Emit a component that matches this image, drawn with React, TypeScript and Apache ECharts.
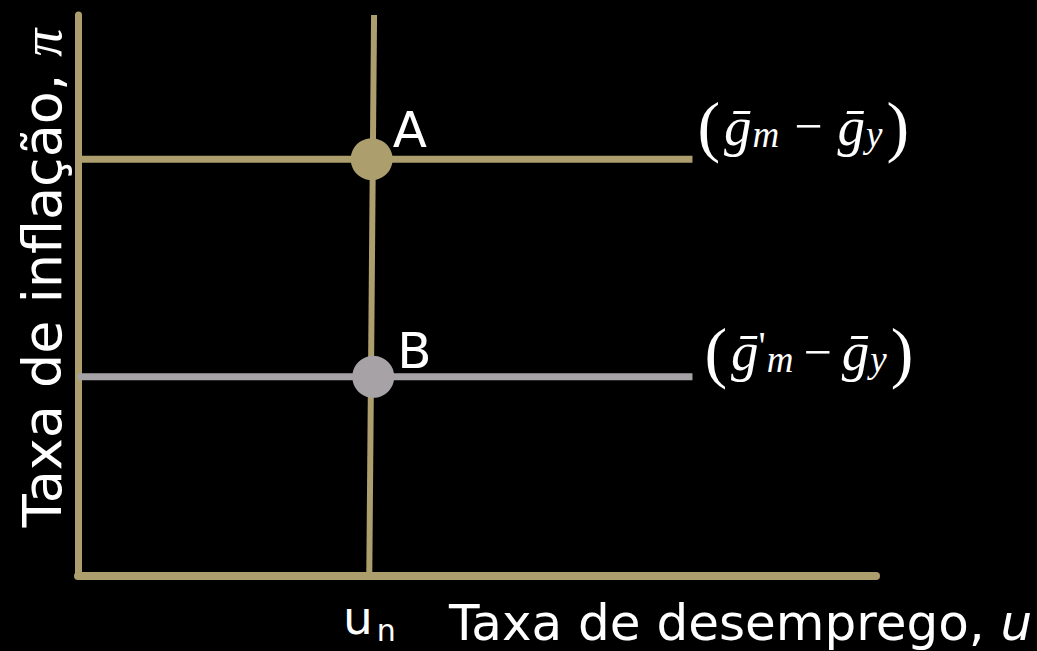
import { useEffect, useRef } from "react";
import * as echarts from "echarts";

// Data (value space: x = unemployment 0..100, y = inflation 0..100)
const pointNames = ["A", "B"];
const pointX = [36.8, 37.0];
const pointY = [74.3, 35.5];
const shortRunStartX = 0;
const shortRunEndX = 77;
const shortRunY = [74.3, 35.5];
const verticalTop = [37.1, 100];
const verticalBottom = [36.5, 0];
const xTitle = "Taxa de desemprego, ";
const yTitle = "Taxa de inflação, ";

const TAN = "#ad9e6e";
const GRAY = "#a7a2a6";
const SANS = "DejaVu Sans";
const MATH = "Liberation Serif";

const makeMathRich = (opPad: number) => ({
  p: { fontFamily: MATH, fontSize: 68, color: "#fff", padding: [0, 4, 0, 4] },
  g: { fontFamily: MATH, fontStyle: "italic", fontSize: 55, color: "#fff" },
  q: { fontFamily: MATH, fontSize: 40, color: "#fff", padding: [0, 0, 12, 0] },
  s: { fontFamily: MATH, fontStyle: "italic", fontSize: 37, color: "#fff", padding: [16, 0, 0, 1] },
  o: { fontFamily: MATH, fontSize: 50, color: "#fff", padding: [0, opPad, 0, opPad] },
});

export default function App() {
  const ref = useRef<HTMLDivElement>(null);
  useEffect(() => {
    document.body.style.margin = "0";
    document.body.style.background = "#000";
    const chart = echarts.init(ref.current!, null, { renderer: "svg" });
    chart.setOption({
      animation: false,
      backgroundColor: "#000",
      grid: { left: 78, right: 161, top: 15, bottom: 75, containLabel: false },
      xAxis: {
        type: "value",
        min: 0,
        max: 100,
        axisLine: { show: true, onZero: false, lineStyle: { color: TAN, width: 8 } },
        axisTick: { show: false },
        axisLabel: { show: false },
        splitLine: { show: false },
      },
      yAxis: {
        type: "value",
        min: 0,
        max: 100,
        axisLine: { show: true, onZero: false, lineStyle: { color: TAN, width: 7 } },
        axisTick: { show: false },
        axisLabel: { show: false },
        splitLine: { show: false },
      },
      series: [
        {
          type: "line",
          data: [
            [shortRunStartX, shortRunY[0]],
            [shortRunEndX, shortRunY[0]],
          ],
          symbol: "none",
          lineStyle: { color: TAN, width: 7 },
          endLabel: {
            show: true,
            distance: 1,
            offset: [0, -33],
            formatter: "{p|(}{g|ḡ}{s|m}{o|−}{g|ḡ}{s|y}{p|)}",
            rich: makeMathRich(15),
          },
          z: 2,
        },
        {
          type: "line",
          data: [
            [shortRunStartX, shortRunY[1]],
            [shortRunEndX, shortRunY[1]],
          ],
          symbol: "none",
          lineStyle: { color: GRAY, width: 7 },
          endLabel: {
            show: true,
            distance: 8,
            offset: [0, -25],
            formatter: "{p|(}{g|ḡ}{q|'}{s|m}{o|−}{g|ḡ}{s|y}{p|)}",
            rich: makeMathRich(10),
          },
          z: 2,
        },
        {
          type: "line",
          data: [verticalTop, verticalBottom],
          symbol: "none",
          lineStyle: { color: TAN, width: 6 },
          z: 3,
        },
        {
          type: "scatter",
          data: [
            {
              value: verticalBottom,
              symbolSize: 1,
              itemStyle: { color: "rgba(0,0,0,0)", opacity: 1 },
              label: {
                show: true,
                position: "bottom",
                distance: 13,
                formatter: "{u|u}{n|n}",
                rich: {
                  u: { fontFamily: SANS, fontSize: 47, color: "#fff" },
                  n: { fontFamily: SANS, fontSize: 30, color: "#fff", padding: [26, 0, 0, 4] },
                },
              },
            },
          ],
          z: 4,
        },
        {
          type: "scatter",
          symbolSize: 42,
          data: pointNames.map((name, i) => ({
            name,
            value: [pointX[i], pointY[i]],
            itemStyle: { color: i === 0 ? TAN : GRAY, opacity: 1 },
            label: {
              show: true,
              position: "right",
              distance: 0,
              offset: i === 0 ? [0, -29] : [3, -26],
              formatter: "{b}",
              color: "#fff",
              fontFamily: SANS,
              fontSize: 50,
            },
          })),
          z: 5,
        },
      ],
      graphic: [
        {
          type: "text",
          x: 449,
          y: 648,
          style: {
            text: "{t|" + xTitle + "}{i|u}",
            textVerticalAlign: "bottom",
            rich: {
              t: { fontFamily: SANS, fontSize: 50, fill: "#fff" },
              i: { fontFamily: SANS, fontStyle: "italic", fontSize: 50, fill: "#fff" },
            },
          },
        },
        {
          type: "text",
          x: 42,
          y: 278,
          rotation: Math.PI / 2,
          style: {
            text: "{t|" + yTitle + "}{i|π}",
            textAlign: "center",
            textVerticalAlign: "middle",
            rich: {
              t: { fontFamily: SANS, fontSize: 54, fill: "#fff" },
              i: { fontFamily: MATH, fontStyle: "italic", fontSize: 56, fill: "#fff" },
            },
          },
        },
      ],
    });
    return () => chart.dispose();
  }, []);
  return <div ref={ref} style={{ width: 1037, height: 651, background: "#000" }} />;
}
